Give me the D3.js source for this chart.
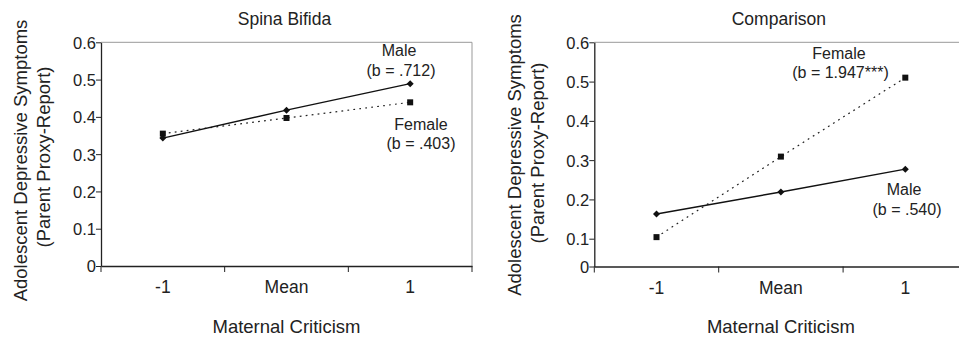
<!DOCTYPE html>
<html><head><meta charset="utf-8">
<script src="https://cdn.jsdelivr.net/npm/d3@7"></script>
<style>body{margin:0;background:#fff;} svg{display:block;} text{font-family:"Liberation Sans",Arial,sans-serif;fill:#222;}</style>
</head><body><svg id="c" width="959" height="339"></svg>
<script>
const categories = ["-1", "Mean", "1"];
const yTicks = [0, 0.1, 0.2, 0.3, 0.4, 0.5, 0.6];
const sbMale = [0.343, 0.418, 0.489];
const sbFemale = [0.355, 0.397, 0.439];
const cmpMale = [0.163, 0.219, 0.277];
const cmpFemale = [0.104, 0.309, 0.510];
const titles = ["Spina Bifida", "Comparison"];
const yLabel = ["Adolescent Depressive Symptoms", "(Parent Proxy-Report)"];
const xLabel = "Maternal Criticism";

const svg = d3.select("#c");
const panels = [
  {title: titles[0], male: sbMale, female: sbFemale, x0: 101, x1: 472, yDom:[0,0.6], yRng:[266,42.3], ylab:[26.5,49.5], ylabY:[160.5,157],
   notes:[{t:"Male",x:399,y:56},{t:"(b = .712)",x:401,y:75.5},{t:"Female",x:421,y:129.5},{t:"(b = .403)",x:421,y:148.5}]},
  {title: titles[1], male: cmpMale, female: cmpFemale, x0: 594.3, x1: 967.5, yDom:[0,0.1,0.6], yRng:[266.5,238.7,42.3], ylab:[521,544], ylabY:[155,153],
   notes:[{t:"Female",x:839,y:58.5},{t:"(b = 1.947***)",x:840.5,y:77.5},{t:"Male",x:904,y:195},{t:"(b = .540)",x:907,y:214.5}]}
];

panels.forEach(p => {
  const g = svg.append("g");
  const x = d3.scaleBand().domain(categories).range([p.x0, p.x1]);
  const y = d3.scaleLinear().domain(p.yDom).range(p.yRng);
  const top = y(0.6), bot = y(0);
  g.append("path").attr("d", `M${p.x0},${top}H${p.x1}V${bot}`).attr("fill","none").attr("stroke","#999").attr("stroke-width",1);
  const ya = g.append("g").attr("transform",`translate(${p.x0},0)`)
    .call(d3.axisLeft(y).tickValues(yTicks).tickFormat(d => d===0?"0":d3.format(".1f")(d)).tickSize(5).tickSizeOuter(0));
  ya.select(".domain").attr("stroke","#222").attr("stroke-width",1.3);
  ya.selectAll(".tick line").attr("stroke","#222");
  ya.selectAll(".tick text").attr("font-size",16.5).attr("fill","#222").attr("x",-5).attr("dy","0.36em");
  const xa = g.append("g").attr("transform",`translate(0,${bot})`)
    .call(d3.axisBottom(x).tickSize(0).tickSizeOuter(0));
  xa.select(".domain").attr("stroke","#222").attr("stroke-width",1.4);
  xa.selectAll(".tick text").attr("font-size",17.5).attr("fill","#222").attr("y",27).attr("dy",0);
  const bounds = [p.x0].concat(categories.map(c => x(c)+x.bandwidth()));
  g.selectAll(".bt").data(bounds).join("line").attr("x1",d=>d).attr("x2",d=>d)
    .attr("y1",bot).attr("y2",bot+6).attr("stroke","#222").attr("stroke-width",1);
  const line = d3.line().x((d,i)=>x(categories[i])+x.bandwidth()/2).y(d=>y(d));
  g.append("path").attr("d", line(p.female)).attr("fill","none").attr("stroke","#222").attr("stroke-width",1.2).attr("stroke-dasharray","1.8,4.2");
  g.append("path").attr("d", line(p.male)).attr("fill","none").attr("stroke","#111").attr("stroke-width",1.4);
  g.selectAll(".sq").data(p.female).join("rect")
    .attr("x",(d,i)=>x(categories[i])+x.bandwidth()/2-3).attr("y",d=>y(d)-3).attr("width",6).attr("height",6).attr("fill","#111");
  g.selectAll(".dm").data(p.male).join("path")
    .attr("d",(d,i)=>{const cx=x(categories[i])+x.bandwidth()/2, cy=y(d); return `M${cx},${cy-3.5}L${cx+3.5},${cy}L${cx},${cy+3.5}L${cx-3.5},${cy}Z`;}).attr("fill","#111");
  const mid = x("Mean")+x.bandwidth()/2;
  g.append("text").attr("x",mid-2).attr("y",25).attr("text-anchor","middle").attr("font-size",17.5).text(p.title);
  g.append("text").attr("x",mid).attr("y",333).attr("text-anchor","middle").attr("font-size",18.5).text(xLabel);
  yLabel.forEach((t,i)=>{
    g.append("text").attr("transform",`translate(${p.ylab[i]},${p.ylabY[i]}) rotate(-90)`).attr("text-anchor","middle").attr("font-size",18.5).text(t);
  });
  p.notes.forEach(n => g.append("text").attr("x",n.x).attr("y",n.y).attr("text-anchor","middle").attr("font-size",16).text(n.t));
});
</script></body></html>
